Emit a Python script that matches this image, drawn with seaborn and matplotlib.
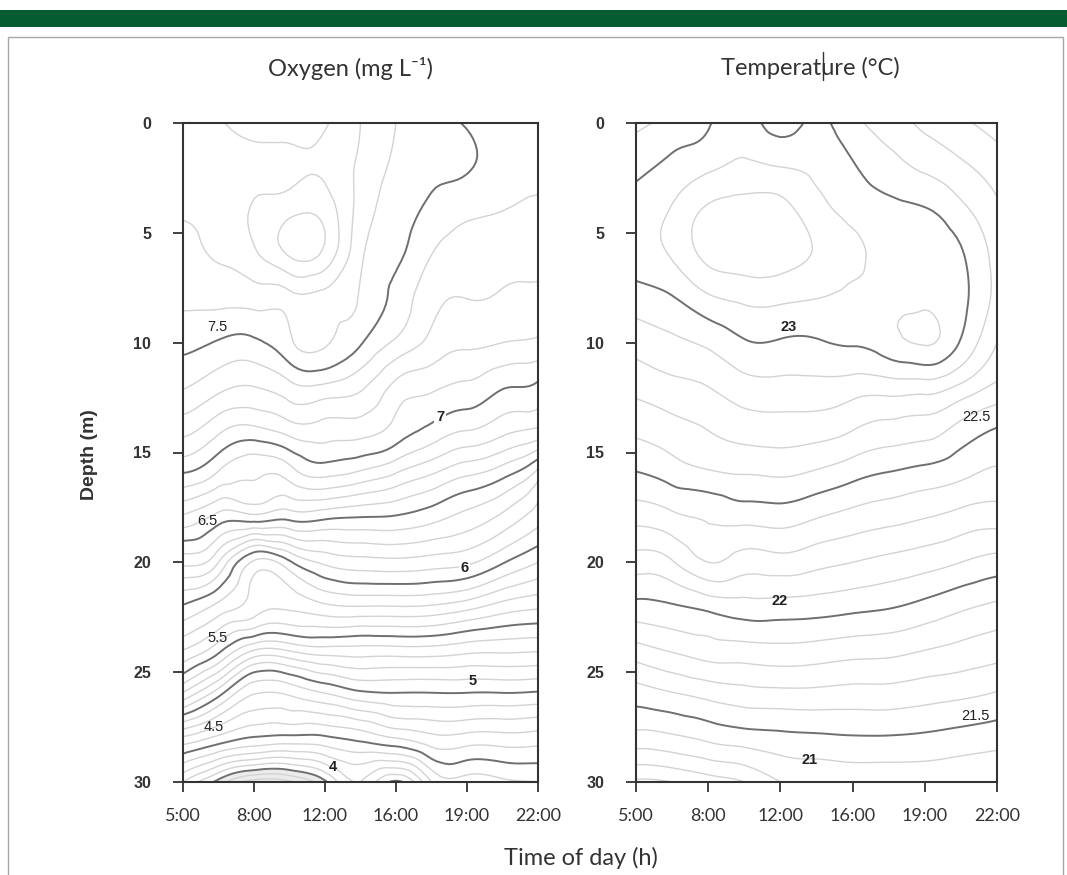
import matplotlib.pyplot as plt
import matplotlib.patches as mpatches
import matplotlib.tri as mtri
from matplotlib.lines import Line2D
import numpy as np
import seaborn as sns

# sampling times (equally spaced on the axis) and the grid
times = ["5:00", "8:00", "12:00", "16:00", "19:00", "22:00"]
col_pos = [0, 0.5, 1, 1.5, 2, 2.5, 3, 3.5, 4, 4.5, 5]
depths = [0, 2, 4, 6, 8, 10, 12, 14, 16, 18, 20, 22, 24, 26, 28, 30]

# dissolved oxygen, mg/L (one row per depth)
oxygen = [
    [7.75, 7.79, 7.83, 7.84, 7.81, 7.70, 7.60, 7.54, 7.49, 7.46, 7.45],
    [7.73, 7.76, 7.78, 7.78, 7.78, 7.68, 7.58, 7.53, 7.51, 7.45, 7.43],
    [7.71, 7.74, 7.81, 7.87, 7.86, 7.66, 7.55, 7.47, 7.42, 7.40, 7.38],
    [7.66, 7.71, 7.78, 7.91, 7.87, 7.62, 7.52, 7.40, 7.36, 7.34, 7.33],
    [7.62, 7.63, 7.64, 7.66, 7.66, 7.59, 7.47, 7.33, 7.30, 7.29, 7.28],
    [7.53, 7.49, 7.48, 7.58, 7.61, 7.51, 7.38, 7.27, 7.22, 7.20, 7.18],
    [7.41, 7.33, 7.30, 7.37, 7.38, 7.32, 7.17, 7.12, 7.08, 7.01, 6.98],
    [7.23, 7.12, 7.07, 7.14, 7.15, 7.14, 7.06, 6.97, 6.90, 6.83, 6.78],
    [6.99, 6.88, 6.81, 6.84, 6.92, 6.87, 6.79, 6.70, 6.61, 6.53, 6.35],
    [6.67, 6.55, 6.55, 6.52, 6.51, 6.49, 6.48, 6.43, 6.36, 6.27, 6.14],
    [6.33, 6.20, 5.88, 5.98, 6.12, 6.16, 6.17, 6.15, 6.12, 6.01, 5.90],
    [5.99, 5.87, 5.75, 5.72, 5.78, 5.80, 5.80, 5.79, 5.74, 5.66, 5.62],
    [5.70, 5.53, 5.30, 5.31, 5.36, 5.36, 5.36, 5.36, 5.33, 5.32, 5.31],
    [5.28, 5.03, 4.80, 4.81, 4.89, 4.97, 4.99, 4.99, 4.99, 4.99, 4.98],
    [4.68, 4.57, 4.49, 4.47, 4.48, 4.53, 4.60, 4.67, 4.66, 4.66, 4.65],
    [4.20, 3.96, 3.75, 3.78, 3.98, 4.20, 3.98, 4.30, 4.35, 4.38, 4.40],
]

# water temperature, deg C (one row per depth)
temperature = [
    [22.88, 22.93, 22.99, 23.05, 22.96, 23.02, 22.93, 22.85, 22.78, 22.72, 22.66],
    [22.97, 23.03, 23.08, 23.12, 23.10, 23.08, 23.01, 22.94, 22.88, 22.82, 22.75],
    [23.05, 23.11, 23.22, 23.25, 23.24, 23.14, 23.07, 23.03, 23.01, 22.93, 22.82],
    [23.06, 23.11, 23.23, 23.26, 23.25, 23.19, 23.12, 23.07, 23.05, 23.01, 22.86],
    [22.95, 22.99, 23.08, 23.12, 23.12, 23.10, 23.08, 23.08, 23.07, 23.03, 22.87],
    [22.84, 22.88, 22.92, 22.99, 22.99, 22.99, 23.01, 23.06, 23.11, 22.99, 22.80],
    [22.73, 22.77, 22.80, 22.86, 22.87, 22.87, 22.85, 22.85, 22.85, 22.78, 22.68],
    [22.62, 22.66, 22.70, 22.74, 22.75, 22.74, 22.70, 22.66, 22.64, 22.56, 22.49],
    [22.49, 22.54, 22.58, 22.60, 22.61, 22.58, 22.53, 22.49, 22.46, 22.42, 22.38],
    [22.33, 22.37, 22.41, 22.43, 22.44, 22.40, 22.36, 22.33, 22.30, 22.26, 22.24],
    [22.15, 22.19, 22.30, 22.25, 22.26, 22.23, 22.20, 22.17, 22.14, 22.10, 22.06],
    [21.97, 21.99, 22.03, 22.06, 22.06, 22.05, 22.03, 22.01, 21.97, 21.92, 21.88],
    [21.76, 21.81, 21.85, 21.86, 21.87, 21.86, 21.84, 21.83, 21.80, 21.77, 21.74],
    [21.55, 21.59, 21.63, 21.66, 21.67, 21.67, 21.66, 21.66, 21.64, 21.62, 21.59],
    [21.36, 21.38, 21.42, 21.45, 21.47, 21.48, 21.49, 21.49, 21.48, 21.46, 21.44],
    [21.08, 21.10, 21.15, 21.20, 21.30, 21.32, 21.33, 21.33, 21.33, 21.32, 21.30],
]

# contour labels: text, time position, depth, bold
oxy_labels = [("7.5", 0.49, 9.3, False), ("7", 3.62, 13.4, True),
              ("6.5", 0.34, 18.1, False), ("6", 3.96, 20.25, True),
              ("5.5", 0.49, 23.45, False), ("5", 4.08, 25.4, True),
              ("4.5", 0.44, 27.5, False), ("4", 2.11, 29.3, True)]
temp_labels = [("23", 2.12, 9.3, True), ("22.5", 4.72, 13.4, False),
               ("22", 1.99, 21.75, True), ("21.5", 4.70, 27.0, False),
               ("21", 2.41, 29.0, True)]

sns.set_theme(style="ticks")
plt.rcParams['font.family'] = ['Lato', 'DejaVu Sans']

W, H = 1067, 875
fig = plt.figure(figsize=(W / 100, H / 100), dpi=100)

# green banner and thin frame
fig.add_artist(mpatches.Rectangle((0, 1 - 27 / H), 1, 17 / H, transform=fig.transFigure,
                                  facecolor="#045c30", edgecolor="none"))
fig.add_artist(mpatches.Rectangle((8 / W, -0.02), 1055 / W, 1 - 37 / H + 0.02,
                                  transform=fig.transFigure, facecolor="none",
                                  edgecolor="#a8a8a8", linewidth=1.0))


def split_levels(lo, hi):
    lv = np.round(np.arange(lo, hi, 0.1), 1)
    dark = [v for v in lv if abs(v * 2 - round(v * 2)) < 1e-6]
    light = [v for v in lv if abs(v * 2 - round(v * 2)) >= 1e-6]
    return light, dark


def smooth_field(values):
    # let matplotlib's cubic tri interpolator smooth the gridded field
    X, Y = np.meshgrid(col_pos, depths)
    z = np.array(values).ravel()
    tri = mtri.Triangulation(X.ravel(), Y.ravel() / 4.0)
    interp = mtri.CubicTriInterpolator(tri, z, kind="min_E")
    tri_r, z_r = mtri.UniformTriRefiner(tri).refine_field(z, triinterpolator=interp, subdiv=3)
    tri_r = mtri.Triangulation(tri_r.x, tri_r.y * 4.0, tri_r.triangles)
    return tri_r, z_r


def draw_panel(ax, values, lo, hi, labels, shade_below=None):
    tri_r, z_r = smooth_field(values)
    light, dark = split_levels(lo, hi)
    if shade_below is not None:
        ax.tricontourf(tri_r, z_r, levels=[0, shade_below], colors=["#ebebeb"])
    ax.tricontour(tri_r, z_r, levels=light, colors="#d3d3d3", linewidths=1.0)
    ax.tricontour(tri_r, z_r, levels=dark, colors="#6f6f6f", linewidths=1.4)
    for txt, u, d, bold in labels:
        t = ax.text(u, d, txt, ha="center", va="center", fontsize=10.5,
                    family=["Liberation Sans", "DejaVu Sans"], color="#222222",
                    fontweight="bold" if bold else "normal")
        if txt in ("7", "6"):
            t.set_bbox(dict(facecolor="white", edgecolor="none", pad=1.0))
    ax.set_xlim(0, 5)
    ax.set_ylim(30, 0)
    ax.set_xticks(range(len(times)))
    ax.set_xticklabels(times, fontsize=13, color="#333333")
    ax.set_yticks(range(0, 31, 5))
    ax.set_yticklabels([str(v) for v in range(0, 31, 5)], fontsize=11.5,
                       fontweight="bold", color="#333333",
                       family=["Liberation Sans", "DejaVu Sans"])
    ax.tick_params(axis="x", length=7, width=1.3, pad=12, color="#333333")
    ax.tick_params(axis="y", length=7, width=1.3, pad=16, color="#333333")
    for sp in ax.spines.values():
        sp.set_visible(True)
        sp.set_color("#333333")
        sp.set_linewidth(1.5)
    ax.set_facecolor("white")


ax1 = fig.add_axes([183 / W, 1 - 782 / H, 355 / W, 659 / H])
ax2 = fig.add_axes([636 / W, 1 - 782 / H, 361 / W, 659 / H])
draw_panel(ax1, oxygen, 3.7, 8.0, oxy_labels, shade_below=4.0)
draw_panel(ax2, temperature, 21.0, 23.35, temp_labels)

fig.text(350 / W, 1 - 68 / H, "Oxygen (mg L\u207b\u00b9)", ha="center", va="center",
         fontsize=17, color="#333333")
fig.text(810 / W, 1 - 68 / H, "Temperature (\u00b0C)", ha="center", va="center",
         fontsize=17, color="#333333")
# stray text cursor in the original title
fig.add_artist(Line2D([823 / W, 823 / W], [1 - 52 / H, 1 - 80 / H],
                      transform=fig.transFigure, color="#333333", linewidth=1.0))
fig.text(90 / W, 1 - 455 / H, "Depth (m)", rotation=90, ha="center", va="center",
         fontsize=14, fontweight="bold", color="#333333",
         family=["Liberation Sans", "DejaVu Sans"])
fig.text(581 / W, 1 - 858 / H, "Time of day (h)", ha="center", va="center",
         fontsize=17, color="#333333")

fig.savefig("out.png", dpi=100, facecolor="white")
